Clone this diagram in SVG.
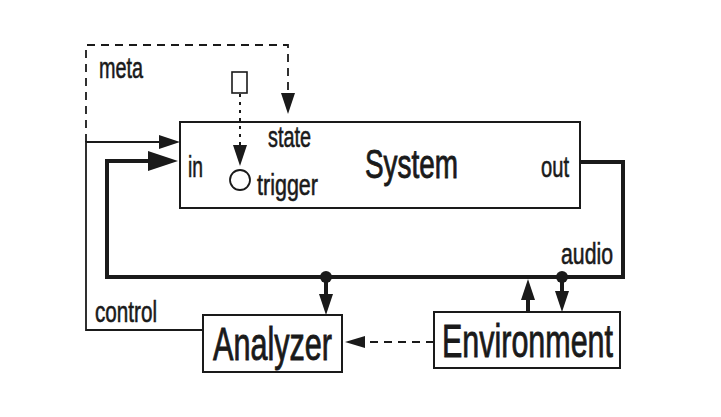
<svg xmlns="http://www.w3.org/2000/svg" width="721" height="417" viewBox="0 0 721 417">
<style>
.box{fill:#fff;stroke:#1a1a1a;stroke-width:2}
.lbl{font-family:"Liberation Sans",Arial,sans-serif;font-size:30px;fill:#1a1a1a;stroke:#1a1a1a;stroke-width:0.6}
.big{font-family:"Liberation Sans",Arial,sans-serif;fill:#1a1a1a;stroke:#1a1a1a;stroke-width:0.9}
.thick{fill:none;stroke:#1a1a1a;stroke-width:4}
.thin{fill:none;stroke:#1a1a1a;stroke-width:1.8}
.dash{fill:none;stroke:#1a1a1a;stroke-width:1.8;stroke-dasharray:8,6}
.dot{fill:none;stroke:#1a1a1a;stroke-width:2;stroke-dasharray:3,5}
</style>
<defs>
<marker id="aBig" markerUnits="userSpaceOnUse" markerWidth="30" markerHeight="22" refX="14" refY="11" orient="auto"><path d="M0,1 L30,11 L0,21 z" fill="#1a1a1a"/></marker>
<marker id="aMed" markerUnits="userSpaceOnUse" markerWidth="22" markerHeight="16" refX="10" refY="8" orient="auto"><path d="M0,1 L21,8 L0,15 z" fill="#1a1a1a"/></marker>
<marker id="aSm" markerUnits="userSpaceOnUse" markerWidth="22" markerHeight="14" refX="10" refY="7" orient="auto"><path d="M0,1 L20,7 L0,13 z" fill="#1a1a1a"/></marker>
</defs>
<rect width="721" height="417" fill="#fff"/>
<g id="system">
<rect class="box" x="180" y="122" width="400" height="86"/>
<text class="big" x="365" y="178" font-size="40" textLength="93" lengthAdjust="spacingAndGlyphs">System</text>
<text class="lbl" x="268" y="147" textLength="43" lengthAdjust="spacingAndGlyphs">state</text>
<text class="lbl" x="188" y="177" textLength="15" lengthAdjust="spacingAndGlyphs">in</text>
<text class="lbl" x="257" y="195" textLength="61" lengthAdjust="spacingAndGlyphs">trigger</text>
<text class="lbl" x="541" y="177" textLength="28" lengthAdjust="spacingAndGlyphs">out</text>
<circle cx="240" cy="180" r="10" fill="#fff" stroke="#1a1a1a" stroke-width="1.8"/>
</g>
<g id="source">
<rect x="232" y="72" width="15" height="21" fill="#fff" stroke="#1a1a1a" stroke-width="1.6"/>
</g>
<g id="analyzer">
<rect class="box" x="203" y="315" width="139" height="57"/>
<text class="big" x="213" y="360" font-size="46" textLength="119" lengthAdjust="spacingAndGlyphs">Analyzer</text>
</g>
<g id="environment">
<rect class="box" x="434" y="312" width="186" height="56"/>
<text class="big" x="442" y="357" font-size="47" textLength="171" lengthAdjust="spacingAndGlyphs">Environment</text>
</g>
<g id="connectors">
<path class="thick" d="M580,162 H623 V277 H107 V161 H162" marker-end="url(#aBig)"/>
<path class="thin" d="M203,330 H86 V142 H169" marker-end="url(#aMed)"/>
<path class="dash" d="M86,142 V45 H288 V103" marker-end="url(#aMed)"/>
<path class="dot" d="M240,94 V155" marker-end="url(#aMed)"/>
<path class="thick" d="M326,277 V304" marker-end="url(#aMed)"/>
<path class="thick" d="M562,277 V301" marker-end="url(#aMed)"/>
<path class="thick" d="M528,312 V290" marker-end="url(#aMed)"/>
<path class="dash" d="M434,342 H355" marker-end="url(#aSm)"/>
<circle cx="326" cy="277" r="6" fill="#1a1a1a"/>
<circle cx="562" cy="277" r="6" fill="#1a1a1a"/>
<text class="lbl" x="99" y="78" textLength="44" lengthAdjust="spacingAndGlyphs">meta</text>
<text class="lbl" x="95" y="322" textLength="62" lengthAdjust="spacingAndGlyphs">control</text>
<text class="lbl" x="561" y="264" textLength="52" lengthAdjust="spacingAndGlyphs">audio</text>
</g>
</svg>
